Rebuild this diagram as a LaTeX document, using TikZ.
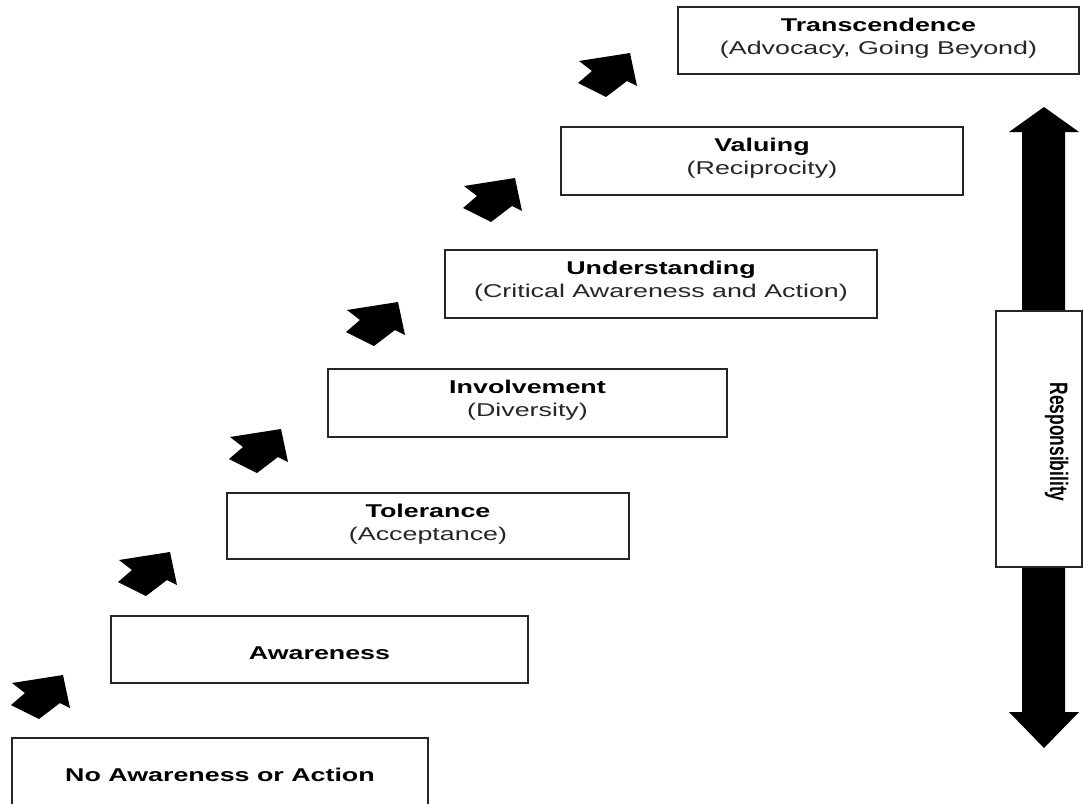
\documentclass[tikz,border=0pt]{standalone}
\usepackage{fontspec}
\usepackage{graphicx}
\setmainfont{Liberation Sans}[FakeStretch=1.45]
\newfontfamily\respfont{Liberation Sans}
\begin{document}
\begin{tikzpicture}[x=1pt,y=-1pt,
  box/.style={draw=black!85, line width=1.6pt, fill=white, inner sep=0pt},
  title/.style={anchor=base, inner sep=0pt, font=\bfseries\fontsize{18.5}{20}\selectfont},
  sub/.style={anchor=base, inner sep=0pt, text=black!85, font=\fontsize{18.5}{20}\selectfont},
  stairarrow/.style={fill=black},
  bigarrow/.style={fill=black}]
\clip (0,0) rectangle (1084,803);
\fill[white] (0,0) rectangle (1084,803);

% step boxes
\node[box, minimum width=416pt, minimum height=68pt] (b1) at (220,772) {};
\node[box, minimum width=417pt, minimum height=67pt] (b2) at (319.5,649.5) {};
\node[box, minimum width=402pt, minimum height=66pt] (b3) at (428,526) {};
\node[box, minimum width=399pt, minimum height=68pt] (b4) at (527.5,403) {};
\node[box, minimum width=432pt, minimum height=68pt] (b5) at (661,284) {};
\node[box, minimum width=402pt, minimum height=68pt] (b6) at (762,161) {};
\node[box, minimum width=401pt, minimum height=67pt] (b7) at (878.5,40.5) {};

% texts
\node[title] (t1) at (220,781) {No Awareness or Action};
\node[title] (t2) at (319.5,659) {Awareness};
\node[title] (t3a) at (428,517.5) {Tolerance};
\node[sub]   (t3b) at (428,540) {(Acceptance)};
\node[title] (t4a) at (527.5,393.5) {Involvement};
\node[sub]   (t4b) at (527.5,416) {(Diversity)};
\node[title] (t5a) at (661,274.5) {Understanding};
\node[sub]   (t5b) at (661,297) {(Critical Awareness and Action)};
\node[title] (t6a) at (762,151.5) {Valuing};
\node[sub]   (t6b) at (762,174) {(Reciprocity)};
\node[title] (t7a) at (878.5,31.5) {Transcendence};
\node[sub]   (t7b) at (878.5,54) {(Advocacy, Going Beyond)};

% stair arrows
\foreach \tx/\ty in {63/675, 170/552, 281/429, 398/302, 515/178, 630/53}
  \fill[stairarrow, shift={(\tx,\ty)}] (0,0) -- (-51,8) -- (-38,18) -- (-52,30)
     -- (-24,44) -- (-3,28) -- (7,33) -- cycle;

% double arrow (responsibility)
\fill[bigarrow] (1044,107) -- (1079,132) -- (1065,132) -- (1065,712) -- (1079,712)
  -- (1044,748) -- (1009,712) -- (1022,712) -- (1022,132) -- (1009,132) -- cycle;
\node[box, minimum width=86pt, minimum height=256pt] (rb) at (1039,439) {};
\node[anchor=base, rotate=-90, inner sep=0pt,
  font=\respfont\bfseries\fontsize{17.4}{20}\selectfont] (rt) at (1050,442)
  {\scalebox{1}[1.45]{Responsibility}};
\end{tikzpicture}
\end{document}
